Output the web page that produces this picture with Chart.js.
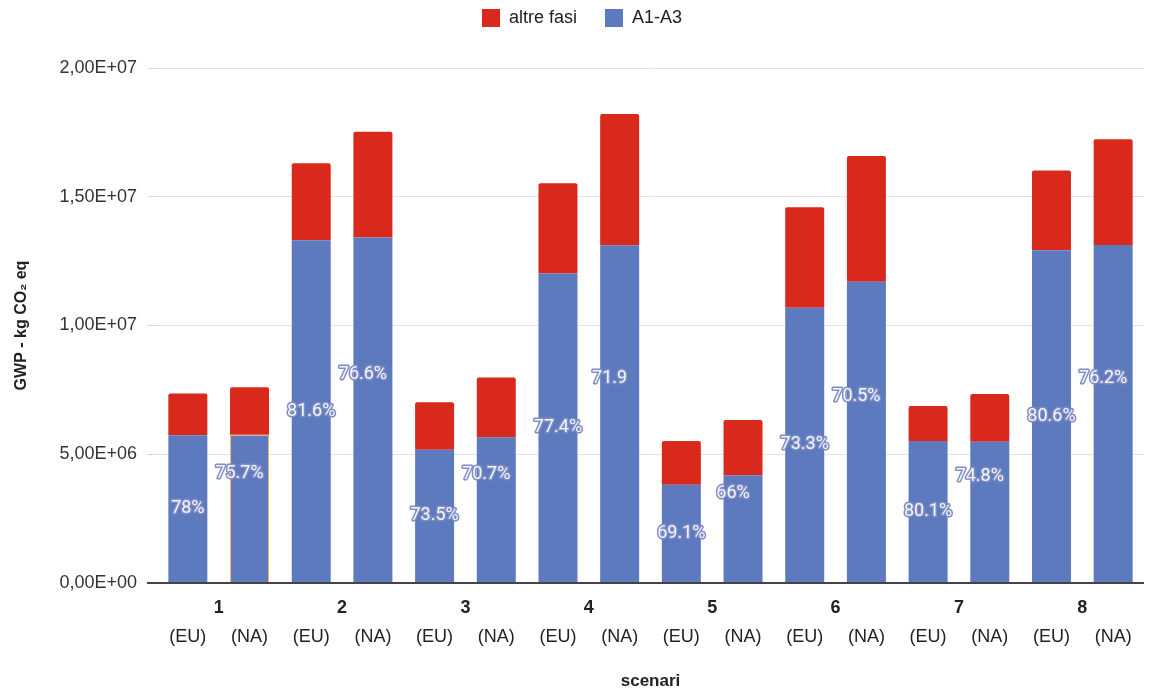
<!DOCTYPE html>
<html>
<head>
<meta charset="utf-8">
<script src="https://cdn.jsdelivr.net/npm/chart.js@4.4.1/dist/chart.umd.min.js"></script>
<style>
  html, body { margin: 0; padding: 0; background: #ffffff; }
  #wrap { width: 1150px; height: 691px; position: relative; }
</style>
</head>
<body>
<div id="wrap"><canvas id="c"></canvas></div>
<script>
// Scenarios: 8 scenarios, each with an EU and an NA variant
const groups = ['1', '2', '3', '4', '5', '6', '7', '8'];
const variants = ['(EU)', '(NA)', '(EU)', '(NA)', '(EU)', '(NA)', '(EU)', '(NA)',
                  '(EU)', '(NA)', '(EU)', '(NA)', '(EU)', '(NA)', '(EU)', '(NA)'];

// GWP, kg CO2 eq
const a1a3 = [5.74e6, 5.76e6, 13.31e6, 13.42e6, 5.17e6, 5.66e6, 12.02e6, 13.12e6,
              3.82e6, 4.18e6, 10.69e6, 11.70e6, 5.51e6, 5.49e6, 12.92e6, 13.13e6];
const altreFasi = [1.62e6, 1.84e6, 2.99e6, 4.10e6, 1.85e6, 2.32e6, 3.50e6, 5.09e6,
                   1.69e6, 2.15e6, 3.90e6, 4.88e6, 1.36e6, 1.85e6, 3.10e6, 4.10e6];

// Share of A1-A3 in the total, as printed on the bars
const shareLabels = ['78%', '75.7%', '81.6%', '76.6%', '73.5%', '70.7%', '77.4%', '71.9',
                     '69.1%', '66%', '73.3%', '70.5%', '80.1%', '74.8%', '80.6%', '76.2%'];

const yTicks = [0, 5e6, 1e7, 1.5e7, 2e7];

const RED = '#d8291c';
const BLUE = '#5e7abf';
const FONT = '"Liberation Sans", Arial, Helvetica, sans-serif';

function sciComma(v) {
  if (v === 0) return '0,00E+00';
  const [m, e] = v.toExponential(2).split('e');
  const n = parseInt(e, 10);
  const sign = n < 0 ? '-' : '+';
  return m.replace('.', ',') + 'E' + sign + String(Math.abs(n)).padStart(2, '0');
}

// Leave extra room between the legend and the plot
const legendSpacer = {
  id: 'legendSpacer',
  beforeInit(chart) {
    const fit = chart.legend.fit;
    chart.legend.fit = function () {
      fit.call(this);
      this.height = 87;
    };
  }
};

// Percent labels inside the blue segments; NA labels sit a little higher and to the left
const shareLabelPlugin = {
  id: 'shareLabels',
  afterDatasetsDraw(chart) {
    const meta = chart.getDatasetMeta(0);
    const ctx = chart.ctx;
    ctx.save();
    ctx.font = '18px Roboto, "Liberation Sans", sans-serif';
    ctx.textAlign = 'center';
    ctx.textBaseline = 'middle';
    ctx.lineJoin = 'round';
    meta.data.forEach((bar, i) => {
      const isNA = i % 2 === 1;
      const x = bar.x + (isNA ? -10 : 0);
      const y = (bar.y + bar.base) / 2 + (isNA ? -35 : 0);
      ctx.lineWidth = 3;
      ctx.strokeStyle = '#7f8dc4';
      ctx.strokeText(shareLabels[i], x, y);
      ctx.fillStyle = '#f4f6ff';
      ctx.fillText(shareLabels[i], x, y);
    });
    ctx.restore();
  }
};

new Chart(document.getElementById('c'), {
  type: 'bar',
  data: {
    labels: variants,
    datasets: [
      {
        label: 'A1-A3',
        data: a1a3,
        backgroundColor: BLUE,
        borderColor: a1a3.map((_, i) => i === 1 ? '#f2b45a' : BLUE),
        borderWidth: a1a3.map((_, i) => i === 1 ? 1 : 0),
        borderSkipped: 'bottom',
        categoryPercentage: 1,
        barPercentage: 0.632
      },
      {
        label: 'altre fasi',
        data: altreFasi,
        backgroundColor: RED,
        borderRadius: { topLeft: 2, topRight: 2, bottomLeft: 0, bottomRight: 0 },
        borderSkipped: false,
        categoryPercentage: 1,
        barPercentage: 0.632
      }
    ]
  },
  options: {
    responsive: true,
    maintainAspectRatio: false,
    animation: false,
    layout: { padding: { left: 20, right: 6, top: -19, bottom: 0 } },
    plugins: {
      legend: {
        position: 'top',
        reverse: true,
        labels: {
          boxWidth: 18,
          boxHeight: 18,
          padding: 28,
          color: '#222',
          font: { family: FONT, size: 18 }
        }
      },
      tooltip: { enabled: false }
    },
    scales: {
      x: {
        stacked: true,
        weight: 1,
        grid: { display: false, drawTicks: false },
        border: { display: false },
        afterFit(scale) { scale.height = 78; },
        ticks: { color: '#222', font: { family: FONT, size: 18 }, padding: 13, maxRotation: 0, autoSkip: false },
        title: {
          display: true,
          text: 'scenari',
          color: '#222',
          font: { family: FONT, size: 17, weight: 'bold' },
          padding: { top: 20, bottom: -1 }
        }
      },
      xg: {
        type: 'category',
        position: 'bottom',
        labels: groups,
        offset: true,
        weight: 0,
        grid: { display: false, drawTicks: false },
        border: { display: false },
        afterFit(scale) { scale.height = 30; },
        ticks: { color: '#222', font: { family: FONT, size: 18, weight: 'bold' }, padding: 14, maxRotation: 0, autoSkip: false }
      },
      y: {
        stacked: true,
        min: 0,
        max: 2e7,
        afterBuildTicks(axis) { axis.ticks = yTicks.map(v => ({ value: v })); },
        afterFit(scale) { scale.width = 137; },
        grid: {
          color: (c) => c.tick && c.tick.value === 0 ? '#444' : '#e3e3e3',
          tickColor: (c) => c.tick && c.tick.value === 0 ? '#444' : '#d9d9d9',
          lineWidth: (c) => c.tick && c.tick.value === 0 ? 2 : 1,
          tickLength: 10
        },
        border: { display: false },
        ticks: {
          color: '#333',
          font: { family: FONT, size: 18 },
          padding: 10,
          callback: (v) => sciComma(v)
        },
        title: {
          display: true,
          text: 'GWP - kg CO\u2082 eq',
          color: '#222',
          font: { family: FONT, size: 16, weight: 'bold' },
          padding: { top: -8, bottom: 0 }
        }
      }
    }
  },
  plugins: [legendSpacer, shareLabelPlugin]
});
</script>
</body>
</html>
